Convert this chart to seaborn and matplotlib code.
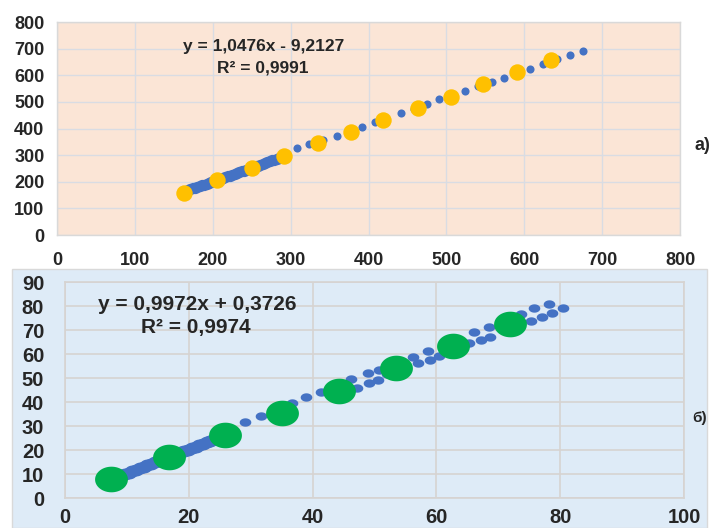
import numpy as np
import pandas as pd
import matplotlib
matplotlib.use("Agg")
import matplotlib.pyplot as plt
from matplotlib.path import Path
from matplotlib.patches import Rectangle
import seaborn as sns

# ---------------- data: panel a ----------------
# dense run of blue points (forms the thick band)
a_dense_x = [168, 171, 174, 177, 180, 183, 186, 189, 192, 195, 198, 201, 204, 207,
             210, 213, 216, 219, 222, 225, 228, 231, 234, 237, 240, 243, 246, 249,
             252, 255, 258, 261, 264, 267, 270, 273, 276, 279, 282, 285, 288]
a_dense_y = [169, 172, 175, 178, 179, 183, 186, 189, 192, 195, 198, 201, 205, 208,
             211, 214, 217, 220, 223, 227, 230, 233, 236, 239, 242, 245, 249, 252,
             255, 258, 261, 264, 267, 271, 274, 277, 280, 283, 286, 289, 293]
# sparse blue points
a_blue_x = [308, 324, 342, 359, 392, 408, 442, 458, 475, 491, 524, 541, 558, 574,
            608, 624, 642, 659, 675]
a_blue_y = [326, 342, 357, 373, 405, 426, 457, 475, 492, 511, 542, 560, 574, 591,
            622, 641, 660, 676, 691]
a_yellow_x = [163, 206, 250, 291, 335, 377, 419, 463, 506, 547, 591, 634]
a_yellow_y = [159, 207, 252, 297, 346, 387, 432, 478, 519, 566, 612, 658]
a_ticks = [0, 100, 200, 300, 400, 500, 600, 700, 800]
a_eq = "y = 1,0476x - 9,2127"
a_r2 = "R² = 0,9991"

# ---------------- data: panel b ----------------
b_dense_x = [8.5, 9.1, 9.7, 10.3, 10.9, 11.5, 12.1, 12.7, 13.3, 13.9, 14.5, 15.1,
             15.7, 16.3, 16.9, 17.5, 18.1, 18.7, 19.3, 19.9, 20.5, 21.1, 21.7, 22.3,
             22.9, 23.5, 24.1, 24.7, 25.3, 25.9, 26.5]
b_dense_y = [8.8, 9.4, 10.0, 10.6, 11.2, 11.8, 12.4, 13.0, 13.6, 14.2, 14.8, 15.4,
             16.0, 16.6, 17.2, 17.8, 18.4, 19.0, 19.6, 20.2, 20.8, 21.4, 22.0, 22.6,
             23.2, 23.8, 24.4, 25.0, 25.6, 26.2, 26.8]
b_blue_x = [29.1, 31.6, 36.6, 39.0, 41.4, 43.5,
            46.2, 47.1, 48.9, 49.1, 50.5, 50.8, 52.0, 54.5,
            56.2, 57.0, 58.6, 58.9, 60.5, 65.3, 66.0, 67.2, 68.5, 68.7,
            73.7, 75.3, 75.8, 77.0, 78.2, 78.7, 80.4]
b_blue_y = [31.5, 34.3, 39.5, 42.0, 44.0, 45.2,
            49.5, 45.7, 52.0, 47.8, 49.2, 53.3, 51.5, 55.0,
            58.9, 56.1, 61.4, 57.5, 59.2, 64.5, 69.0, 65.8, 71.4, 67.2,
            76.7, 73.9, 79.0, 75.5, 80.8, 77.2, 79.0]
b_green_x = [7.5, 16.8, 25.9, 35.1, 44.2, 53.4, 62.7, 71.9]
b_green_y = [7.9, 17.2, 26.3, 35.5, 44.7, 54.0, 63.3, 72.5]
b_xticks = [0, 20, 40, 60, 80, 100]
b_yticks = [0, 10, 20, 30, 40, 50, 60, 70, 80, 90]
b_eq = "y = 0,9972x + 0,3726"
b_r2 = "R² = 0,9974"

# ---------------- style ----------------
sns.set_style("white")
plt.rcParams["font.family"] = ["Liberation Sans", "DejaVu Sans"]
plt.rcParams["font.weight"] = "bold"

BLUE = "#4472C4"
YELLOW = "#FFC000"
GREEN = "#00B050"
PEACH = "#FBE5D6"
LIGHTBLUE = "#DEEBF7"


def ellipse_marker(ratio):
    t = np.linspace(0, 2 * np.pi, 60)
    verts = np.column_stack([np.cos(t), ratio * np.sin(t)])
    return Path(verts, closed=True)


W, H = 713, 528
fig = plt.figure(figsize=(W / 100, H / 100), dpi=100)
fig.patch.set_facecolor("white")

# bottom panel background
fig.patches.append(Rectangle((12 / W, 0), (707 - 12) / W, (H - 269) / H,
                             transform=fig.transFigure, facecolor=LIGHTBLUE,
                             edgecolor="#D9D9D9", linewidth=1.0, zorder=-10))


def axes_px(left, top, right, bottom):
    return fig.add_axes([left / W, (H - bottom) / H, (right - left) / W, (bottom - top) / H])


# ---------------- panel a ----------------
ax1 = axes_px(57, 22, 680, 235)
ax1.set_facecolor(PEACH)
sns.scatterplot(x=a_dense_x, y=a_dense_y, ax=ax1, color=BLUE, s=66,
                linewidth=0, zorder=3)
sns.scatterplot(x=a_blue_x, y=a_blue_y, ax=ax1, color=BLUE, s=34,
                linewidth=0, zorder=3)
sns.scatterplot(x=a_yellow_x, y=a_yellow_y, ax=ax1, color=YELLOW, s=140,
                linewidth=0, zorder=4)
ax1.set_xlim(0, 800)
ax1.set_ylim(0, 800)
ax1.set_xticks(a_ticks)
ax1.set_yticks(a_ticks)
ax1.grid(True, color="#D9DCE3", linewidth=1.0)
ax1.set_axisbelow(True)
ax1.tick_params(axis="both", length=0, labelsize=13)
ax1.tick_params(axis="y", pad=9)
ax1.tick_params(axis="x", pad=12)
for sp in ax1.spines.values():
    sp.set_color("#D9D9D9")
    sp.set_linewidth(1.0)
fig.text(264 / W, 1 - 47 / H, a_eq, fontsize=12.5, fontweight="bold",
         ha="center", va="center")
fig.text(263 / W, 1 - 68 / H, a_r2, fontsize=12.5, fontweight="bold",
         ha="center", va="center")
fig.text(702 / W, 1 - 146 / H, "a)", fontsize=13, fontweight="bold",
         ha="center", va="center")

# ---------------- panel b ----------------
ax2 = axes_px(65, 282, 684, 498)
ax2.set_facecolor(LIGHTBLUE)
sns.scatterplot(x=b_dense_x, y=b_dense_y, ax=ax2, color=BLUE, s=120,
                marker=ellipse_marker(0.78), linewidth=0, zorder=3)
sns.scatterplot(x=b_blue_x, y=b_blue_y, ax=ax2, color=BLUE, s=70,
                marker=ellipse_marker(0.72), linewidth=0, zorder=3)
sns.scatterplot(x=b_green_x, y=b_green_y, ax=ax2, color=GREEN, s=560,
                marker=ellipse_marker(0.78), linewidth=0, zorder=4)
ax2.set_xlim(0, 100)
ax2.set_ylim(0, 90)
ax2.set_xticks(b_xticks)
ax2.set_yticks(b_yticks)
ax2.grid(True, color="#D6D3D1", linewidth=1.2)
ax2.set_axisbelow(True)
ax2.tick_params(axis="both", length=0, labelsize=14.5)
ax2.tick_params(axis="y", pad=15)
ax2.tick_params(axis="x", pad=7)
for sp in ax2.spines.values():
    sp.set_color("#D6D3D1")
    sp.set_linewidth(1.2)
fig.text(197 / W, 1 - 305 / H, b_eq, fontsize=15, fontweight="bold",
         ha="center", va="center")
fig.text(196 / W, 1 - 328 / H, b_r2, fontsize=15, fontweight="bold",
         ha="center", va="center")
fig.text(700 / W, 1 - 418 / H, "б)", fontsize=11, fontweight="bold",
         ha="center", va="center")

fig.savefig("out.png", dpi=100)
